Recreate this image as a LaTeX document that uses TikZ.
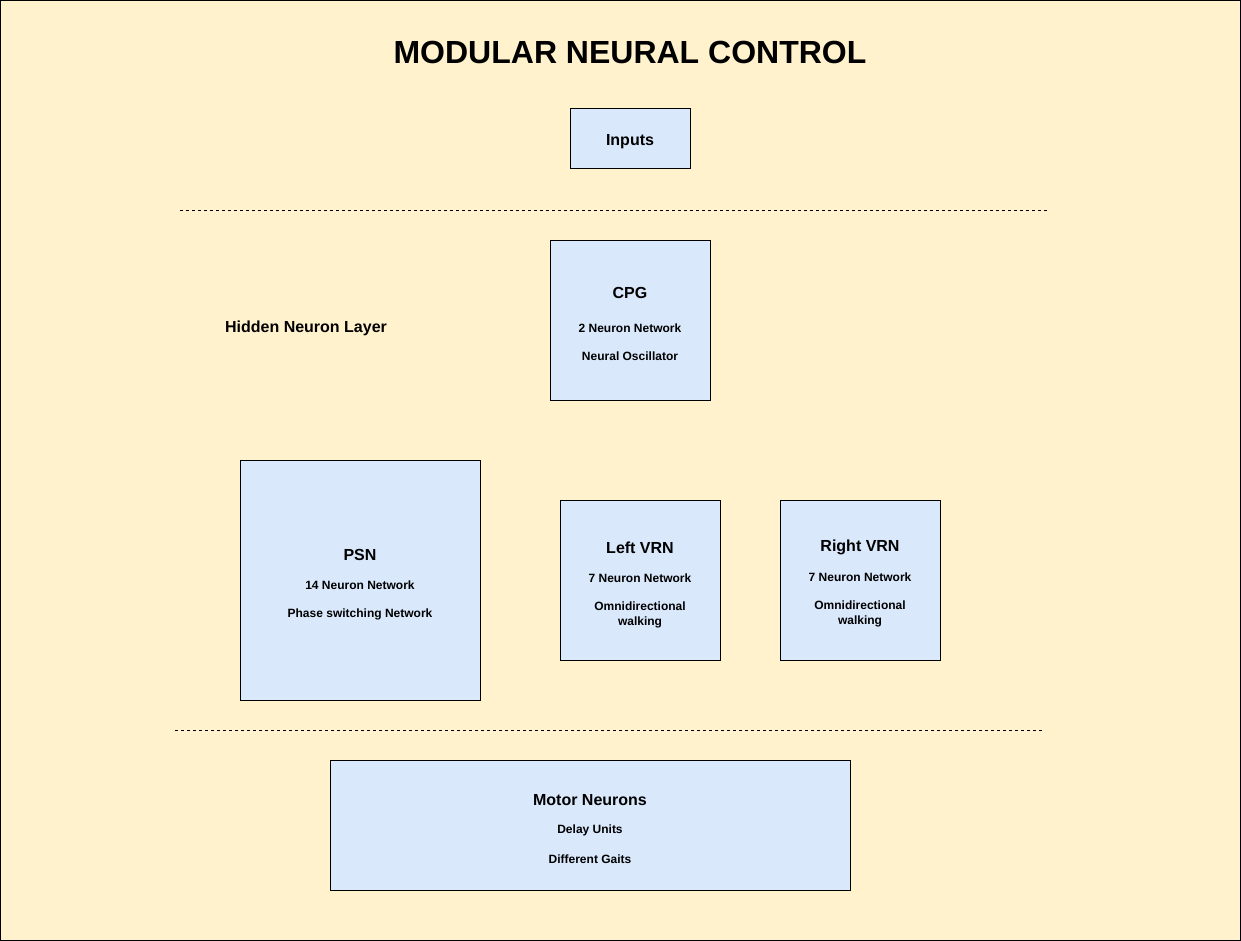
\documentclass[tikz,border=0pt]{standalone}
\usepackage{fontspec}
\setmainfont{Liberation Sans}
\definecolor{bgyellow}{HTML}{FFF2CC}
\definecolor{boxblue}{HTML}{DAE8FC}
\begin{document}
\begin{tikzpicture}[x=1pt,y=-1pt,
  box/.style={draw=black,fill=boxblue,line width=0.8pt},
  head/.style={font=\bfseries\fontsize{16}{19}\selectfont,inner sep=0pt,yshift=-1.5pt},
  sub/.style={font=\bfseries\fontsize{12}{15}\selectfont,inner sep=0pt,align=center,yshift=-1pt},
  sep/.style={draw=black,line width=0.6pt,dash pattern=on 3pt off 3pt}]
\useasboundingbox (0,0) rectangle (1241,941);
\fill[bgyellow] (0,0) rectangle (1241,941);
\draw[line width=1pt] (0.5,0.5) rectangle (1240.5,940.5);
% title
\node[font=\bfseries\fontsize{32}{38}\selectfont,inner sep=0pt] (title) at (630,52) {MODULAR NEURAL CONTROL};
% inputs
\draw[box] (570.5,108.5) rectangle (690.5,168.5);
\node[head] (inputs) at (630,140) {Inputs};
% separator 1
\coordinate (s1a) at (180,210.5); \coordinate (s1b) at (1048,210.5);
\draw[sep] (s1a) -- (s1b);
% CPG
\draw[box] (550.5,240.5) rectangle (710.5,400.5);
\node[head] (cpg) at (630,291) {CPG};
\node[sub] (cpg1) at (630,327) {2 Neuron Network};
\node[sub] (cpg2) at (630,355) {Neural Oscillator};
\node[head] (hidden) at (306,327) {Hidden Neuron Layer};
% PSN
\draw[box] (240.5,460.5) rectangle (480.5,700.5);
\node[head] (psn) at (360,553) {PSN};
\node[sub] (psn1) at (360,584) {14 Neuron Network};
\node[sub] (psn2) at (360,613) {Phase switching Network};
% Left VRN
\draw[box] (560.5,500.5) rectangle (720.5,660.5);
\node[head] (lvrn) at (640,546) {Left VRN};
\node[sub] (lvrn1) at (640,577) {7 Neuron Network};
\node[sub] (lvrn2) at (640,613.5) {Omnidirectional\\walking};
% Right VRN
\draw[box] (780.5,500.5) rectangle (940.5,660.5);
\node[head] (rvrn) at (860,546) {Right VRN};
\node[sub] (rvrn1) at (860,576) {7 Neuron Network};
\node[sub] (rvrn2) at (860,613) {Omnidirectional\\walking};
% separator 2
\coordinate (s2a) at (175,730.5); \coordinate (s2b) at (1043,730.5);
\draw[sep] (s2a) -- (s2b);
% Motor neurons
\draw[box] (330.5,760.5) rectangle (850.5,890.5);
\node[head] (motor) at (590,799) {Motor Neurons};
\node[sub] (motor1) at (590,829) {Delay Units};
\node[sub] (motor2) at (590,858) {Different Gaits};
\end{tikzpicture}
\end{document}
